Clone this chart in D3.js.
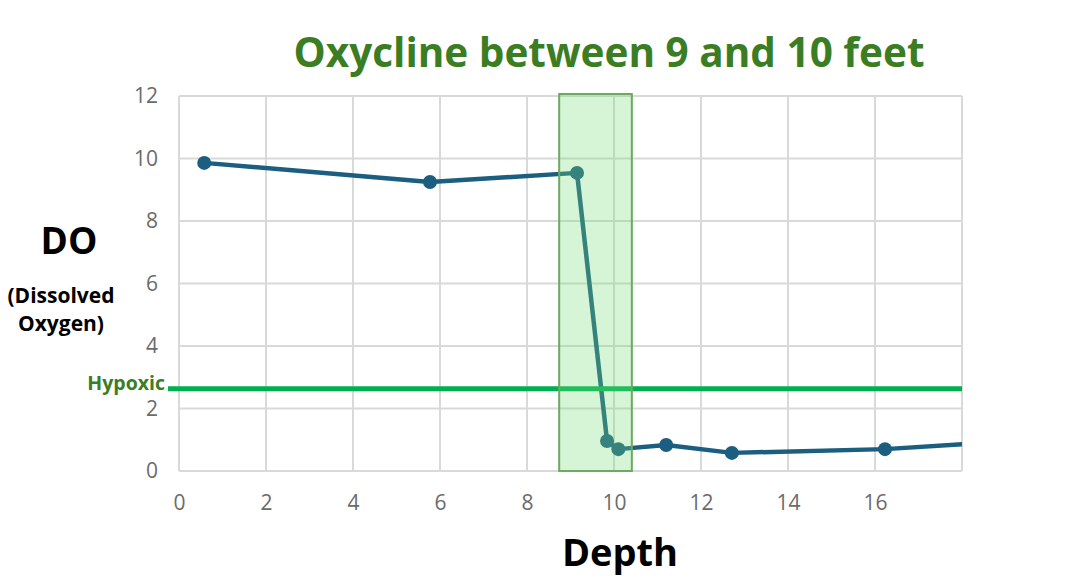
<!DOCTYPE html>
<html><head><meta charset="utf-8">
<script src="https://cdn.jsdelivr.net/npm/d3@7"></script>
<style>body{margin:0;background:#fff;font-family:"Open Sans",sans-serif}</style>
</head><body><svg id="c" width="1074" height="584"></svg>
<script>
const depth = [0.58, 5.77, 9.15, 9.84, 10.1, 11.2, 12.71, 16.23, 19.5];
const dissolvedOxygen = [9.86, 9.25, 9.54, 0.96, 0.70, 0.83, 0.58, 0.70, 0.99];
const xTicks = [0, 2, 4, 6, 8, 10, 12, 14, 16];
const yTicks = [0, 2, 4, 6, 8, 10, 12];
const oxyclineRange = [8.74, 10.41];
const hypoxicLevel = 2.63;

const svg = d3.select("#c");
const x = d3.scaleLinear().domain([0, 18]).range([179, 962]);
const y = d3.scaleLinear().domain([0, 12]).range([471, 96]);

svg.append("defs").append("clipPath").attr("id","clip")
  .append("rect").attr("x",179).attr("y",80).attr("width",962-179).attr("height",400);

// gridlines
svg.append("g").selectAll("line").data(yTicks).join("line")
  .attr("x1", x(0)).attr("x2", x(18)).attr("y1", d=>y(d)).attr("y2", d=>y(d))
  .attr("stroke","#d9d9d9").attr("stroke-width",2);
svg.append("g").selectAll("line").data(xTicks.concat([18])).join("line")
  .attr("x1", d=>x(d)).attr("x2", d=>x(d)).attr("y1", y(0)).attr("y2", y(12))
  .attr("stroke","#d9d9d9").attr("stroke-width",2);

// axes
const xAxis = svg.append("g").attr("transform",`translate(0,${y(0)})`)
  .call(d3.axisBottom(x).tickValues(xTicks).tickSize(0).tickPadding(24));
const yAxis = svg.append("g").attr("transform",`translate(${x(0)},0)`)
  .call(d3.axisLeft(y).tickValues(yTicks).tickSize(0).tickPadding(21));
[xAxis,yAxis].forEach(a=>{
  a.select(".domain").remove();
  a.selectAll("text").attr("fill","#6b6b6b").style("font-size","21px").style("font-family","Open Sans");
});

// data line
const g = svg.append("g").attr("clip-path","url(#clip)");
const pts = depth.map((d,i)=>[d, dissolvedOxygen[i]]);
g.append("path").datum(pts)
  .attr("d", d3.line().x(d=>x(d[0])).y(d=>y(d[1])))
  .attr("fill","none").attr("stroke","#1b5e80").attr("stroke-width",4.5).attr("stroke-linejoin","round");
g.selectAll("circle").data(pts).join("circle")
  .attr("cx", d=>x(d[0])).attr("cy", d=>y(d[1])).attr("r",7).attr("fill","#1b5e80");

// hypoxic line
svg.append("line").attr("x1",168).attr("x2",x(18))
  .attr("y1",y(hypoxicLevel)).attr("y2",y(hypoxicLevel))
  .attr("stroke","#00b050").attr("stroke-width",5);
svg.append("text").attr("x",165).attr("y",y(hypoxicLevel)+1).attr("text-anchor","end")
  .attr("fill","#3a7d22").style("font-weight","bold").style("font-size","19.5px").text("Hypoxic");

// oxycline box
svg.append("rect").attr("x",x(oxyclineRange[0])).attr("width",x(oxyclineRange[1])-x(oxyclineRange[0]))
  .attr("y",94).attr("height",y(0)-94)
  .attr("fill","rgba(120,220,120,0.3)").attr("stroke","#6aab5c").attr("stroke-width",2);

// titles
svg.append("text").attr("x",609).attr("y",67).attr("text-anchor","middle")
  .attr("fill","#3a7d22").style("font-weight","bold").style("font-size","40.5px").text("Oxycline between 9 and 10 feet");
svg.append("text").attr("x",620).attr("y",566).attr("text-anchor","middle")
  .attr("fill","#000").style("font-weight","bold").style("font-size","38px").text("Depth");
svg.append("text").attr("x",69).attr("y",254).attr("text-anchor","middle")
  .attr("fill","#000").style("font-weight","bold").style("font-size","37px").text("DO");
svg.append("text").attr("x",61).attr("y",303).attr("text-anchor","middle")
  .attr("fill","#000").style("font-weight","bold").style("font-size","21px").text("(Dissolved");
svg.append("text").attr("x",61).attr("y",331).attr("text-anchor","middle")
  .attr("fill","#000").style("font-weight","bold").style("font-size","21px").text("Oxygen)");
</script></body></html>
